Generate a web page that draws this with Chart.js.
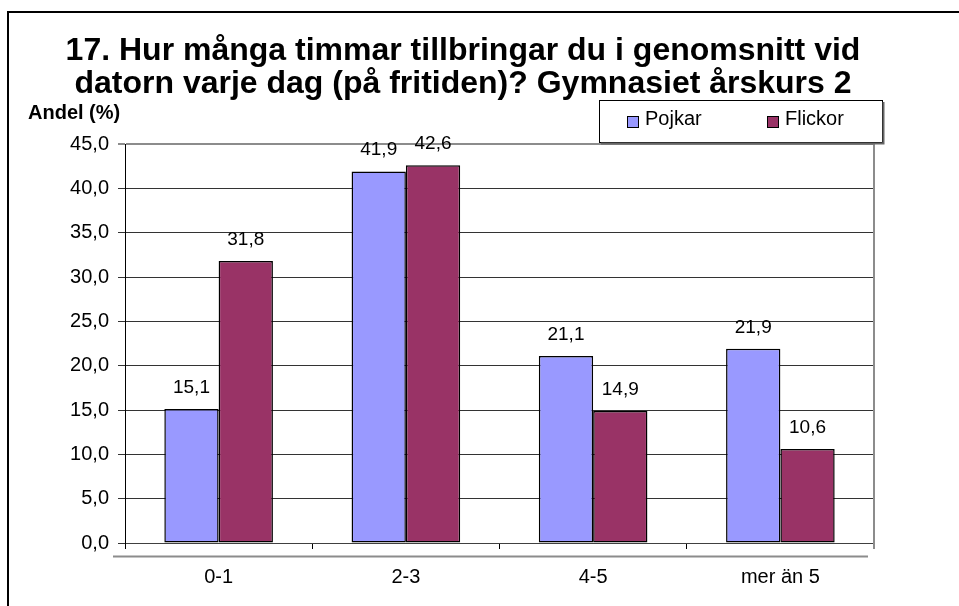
<!DOCTYPE html>
<html lang="sv">
<head>
<meta charset="utf-8">
<title>Timmar vid datorn</title>
<script src="https://cdn.jsdelivr.net/npm/chart.js@4/dist/chart.umd.min.js"></script>
<style>
  html, body { margin: 0; padding: 0; overflow: hidden; background: #fff; }
  #wrap { position: relative; width: 959px; height: 606px; }
  /* ramen runt diagrammet går ut utanför bilden till höger och nedåt */
  #frame {
    position: absolute; left: 7px; top: 11px; width: 980px; height: 640px;
    border: 2px solid #000; pointer-events: none;
  }
  canvas { position: absolute; left: 0; top: 0; }
</style>
</head>
<body>
<div id="wrap">
  <canvas id="chart" width="959" height="606"></canvas>
  <div id="frame"></div>
</div>
<script>
const CATEGORIES = ["0-1", "2-3", "4-5", "mer än 5"];
const POJKAR = [15.1, 41.9, 21.1, 21.9];
const FLICKOR = [31.8, 42.6, 14.9, 10.6];
const SERIES_NAMES = ["Pojkar", "Flickor"];
const Y_MIN = 0;
const Y_MAX = 45;
const Y_STEP = 5;
const TITLE_LINES = [
  "17. Hur många timmar tillbringar du i genomsnitt vid",
  "datorn varje dag (på fritiden)? Gymnasiet årskurs 2",
];
const Y_TITLE = "Andel (%)";

const FONT = '"Liberation Sans", Arial, sans-serif';
const BLUE = "#9999ff";
const PLUM = "#993366";
const GREY = "#8c8c8c";

/* 42.6 -> "42,6" (svenskt decimalkomma) */
const sv = (v) => Number(v).toFixed(1).replace(".", ",");

/* Rubrik, y-axelns titel, ramen runt ritytan och förklaringsrutan */
const decorations = {
  id: "decorations",
  afterDraw(chart) {
    const { ctx, chartArea: a } = chart;
    ctx.save();

    ctx.fillStyle = "#000";
    ctx.textAlign = "center";
    ctx.textBaseline = "alphabetic";
    ctx.font = `bold 32px ${FONT}`;
    TITLE_LINES.forEach((line, i) => ctx.fillText(line, 463, 60 + i * 33));

    ctx.textAlign = "left";
    ctx.textBaseline = "middle";
    ctx.font = `bold 20px ${FONT}`;
    ctx.fillText(Y_TITLE, 28, a.top - 31);

    // grå kant till höger om ritytan
    ctx.strokeStyle = GREY;
    ctx.lineWidth = 2;
    ctx.beginPath();
    ctx.moveTo(a.right, a.top);
    ctx.lineTo(a.right, a.bottom + 6);
    ctx.stroke();

    // grå "golv"-linje under x-axeln
    ctx.beginPath();
    ctx.moveTo(a.left - 12, a.bottom + 13.5);
    ctx.lineTo(a.right - 6, a.bottom + 13.5);
    ctx.stroke();

    // förklaring med skugga
    const bx = a.right - 275, by = a.top - 44, bw = 283, bh = 42;
    ctx.fillStyle = "#fff";
    ctx.fillRect(bx, by, bw, bh);
    ctx.strokeStyle = "#000";
    ctx.lineWidth = 1;
    ctx.strokeRect(bx + 0.5, by + 0.5, bw, bh);
    ctx.strokeStyle = "#666";
    ctx.lineWidth = 2;
    ctx.beginPath();
    ctx.moveTo(bx + 2, by + bh + 1.5);
    ctx.lineTo(bx + bw + 1.5, by + bh + 1.5);
    ctx.lineTo(bx + bw + 1.5, by + 2);
    ctx.stroke();

    ctx.font = `20px ${FONT}`;
    ctx.textBaseline = "middle";
    chart.data.datasets.forEach((ds, i) => {
      const x = bx + 28 + i * 140;
      ctx.fillStyle = ds.backgroundColor;
      ctx.fillRect(x, by + 16, 11, 11);
      ctx.strokeStyle = "#000";
      ctx.lineWidth = 1;
      ctx.strokeRect(x + 0.5, by + 16.5, 11, 11);
      ctx.fillStyle = "#000";
      ctx.fillText(ds.label, x + 18, by + 19);
    });

    ctx.restore();
  },
};

/* Värdeetiketter ovanför varje stapel */
const valueLabels = {
  id: "valueLabels",
  afterDatasetsDraw(chart) {
    const { ctx } = chart;
    ctx.save();
    ctx.font = `19px ${FONT}`;
    ctx.fillStyle = "#000";
    ctx.textAlign = "center";
    ctx.textBaseline = "alphabetic";
    chart.data.datasets.forEach((ds, i) => {
      chart.getDatasetMeta(i).data.forEach((bar, j) => {
        ctx.fillText(sv(ds.data[j]), bar.x, bar.y - 16);
      });
    });
    ctx.restore();
  },
};

new Chart(document.getElementById("chart"), {
  type: "bar",
  data: {
    labels: CATEGORIES,
    datasets: [
      { label: SERIES_NAMES[0], data: POJKAR, backgroundColor: BLUE },
      { label: SERIES_NAMES[1], data: FLICKOR, backgroundColor: PLUM },
    ],
  },
  options: {
    responsive: false,
    animation: false,
    devicePixelRatio: 1,
    layout: { padding: { top: 144, right: 85, left: 0, bottom: 0 } },
    datasets: {
      bar: {
        borderColor: "#000",
        borderWidth: 1.5,
        borderSkipped: false,
        barPercentage: 1,
        categoryPercentage: 0.58,
      },
    },
    plugins: {
      legend: { display: false },
      title: { display: false },
      tooltip: { enabled: false },
    },
    scales: {
      x: {
        afterFit: (s) => { s.height = 63; },
        grid: {
          drawOnChartArea: false,
          drawTicks: true,
          tickLength: 6,
          color: "#000",
          offset: true,
        },
        border: { color: "#404040", width: 1 },
        ticks: { color: "#000", font: { family: FONT, size: 20 }, padding: 16 },
      },
      y: {
        min: Y_MIN,
        max: Y_MAX,
        afterFit: (s) => { s.width = 125; },
        grid: {
          color: (c) => (c.tick && c.tick.value === Y_MAX ? GREY : "#333"),
          lineWidth: (c) => (c.tick && c.tick.value === Y_MAX ? 2 : 1),
          tickLength: 7,
        },
        border: { color: "#000", width: 1 },
        ticks: {
          stepSize: Y_STEP,
          color: "#000",
          padding: 9,
          font: { family: FONT, size: 20 },
          callback: (v) => sv(v),
        },
      },
    },
  },
  plugins: [valueLabels, decorations],
});
</script>
</body>
</html>
